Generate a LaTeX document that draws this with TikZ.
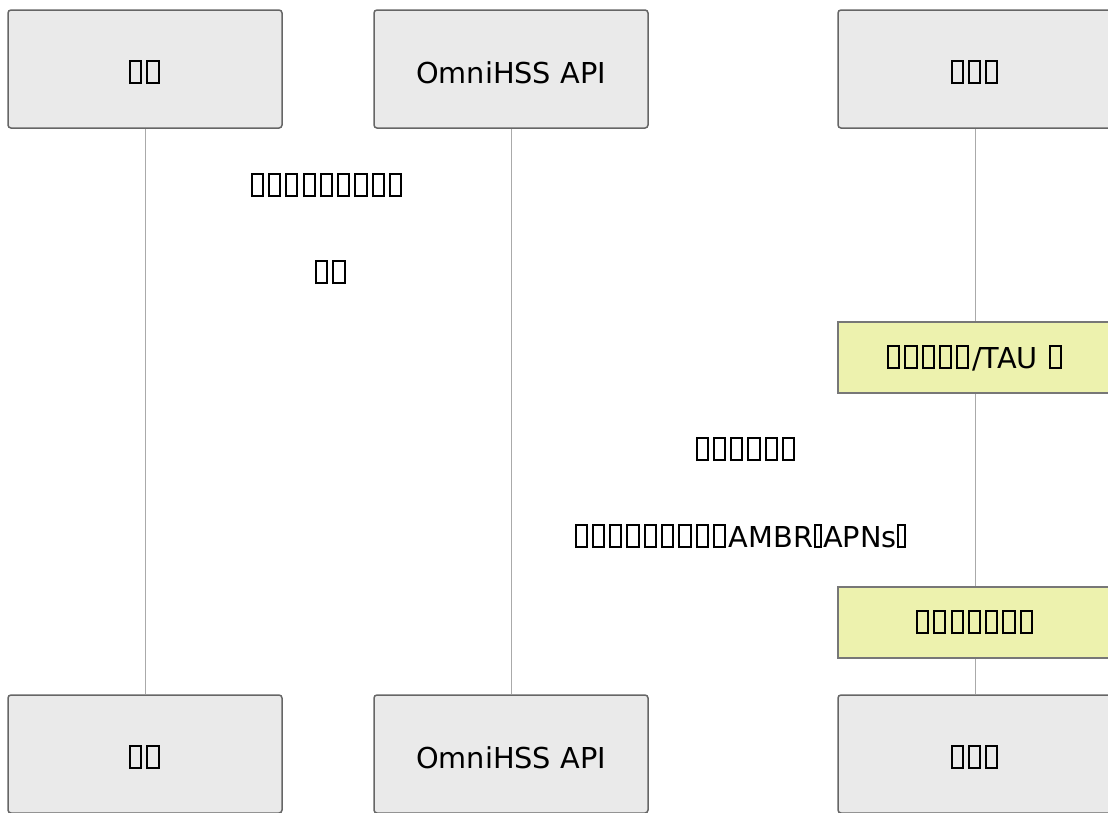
\documentclass[tikz,border=0pt]{standalone}
\usepackage{fontspec}
\setmainfont{DejaVu Sans}
\usepackage{tikz}
\usetikzlibrary{positioning}
\definecolor{actfill}{HTML}{EAEAEA}
\definecolor{actline}{HTML}{666666}
\definecolor{notefill}{HTML}{EDF2AE}
\definecolor{noteline}{HTML}{777777}
\definecolor{lifecol}{HTML}{AAAAAA}
% missing-glyph boxes, as the reference prints them
\newcommand{\tofu}{\kern0.05em\lower0.04em\hbox{\vrule width0.07em height0.84em\vbox to 0.84em{\hrule width0.32em height0.07em\vfill\hrule width0.32em height0.07em}\vrule width0.07em height0.84em}\kern0.09em}
\newcommand{\ntofu}{\kern0.02em\lower0.04em\hbox{\vrule width0.07em height0.84em\vbox to 0.84em{\hrule width0.16em height0.07em\vfill\hrule width0.16em height0.07em}\vrule width0.07em height0.84em}\kern0.03em}
\newcommand{\tofus}[1]{\foreach \k in {1,...,#1}{\tofu}}
\tikzset{
  actor/.style={draw=actline, fill=actfill, line width=1.5pt, rounded corners=3pt,
                minimum width=274pt, minimum height=118pt, text height=28pt, text depth=0pt},
  notebox/.style={draw=noteline, fill=notefill, line width=1.5pt,
                minimum width=274pt, minimum height=71pt, text height=21pt, text depth=0pt},
  lifeline/.style={lifecol, line width=1pt},
  msglab/.style={anchor=base},
}

\begin{document}
\begin{tikzpicture}[x=1pt, y=-1pt, font=\fontsize{28.8}{34}\selectfont]
  \useasboundingbox (0,0) rectangle (1108,812);
  % participants
  \node[actor] (userTop) at (145,69) {\tofus{2}};
  \node[actor] (apiTop) at (511,69) {OmniHSS API};
  \node[actor] (netTop) at (975,69) {\tofus{3}};
  \node[actor] (userBot) at (145,754) {\tofus{2}};
  \node[actor] (apiBot) at (511,754) {OmniHSS API};
  \node[actor] (netBot) at (975,754) {\tofus{3}};
  \draw[lifeline] (userTop.south) -- (userBot.north);
  \draw[lifeline] (apiTop.south) -- (apiBot.north);
  \draw[lifeline] (netTop.south) -- (netBot.north);
  % messages
  \node[msglab] (msgA) at (327,196) {\tofus{9}};
  \node[msglab] (msgB) at (331,283) {\tofus{2}};
  \node[notebox] (noteA) at (975,357.5) {\tofus{5}/TAU \tofu};
  \node[msglab] (msgC) at (746,460) {\tofus{6}};
  \node[msglab] (msgD) at (740,547) {\tofus{9}AMBR\ntofu APNs\ntofu};
  \node[notebox] (noteB) at (975,622.5) {\tofus{7}};
\end{tikzpicture}
\end{document}
